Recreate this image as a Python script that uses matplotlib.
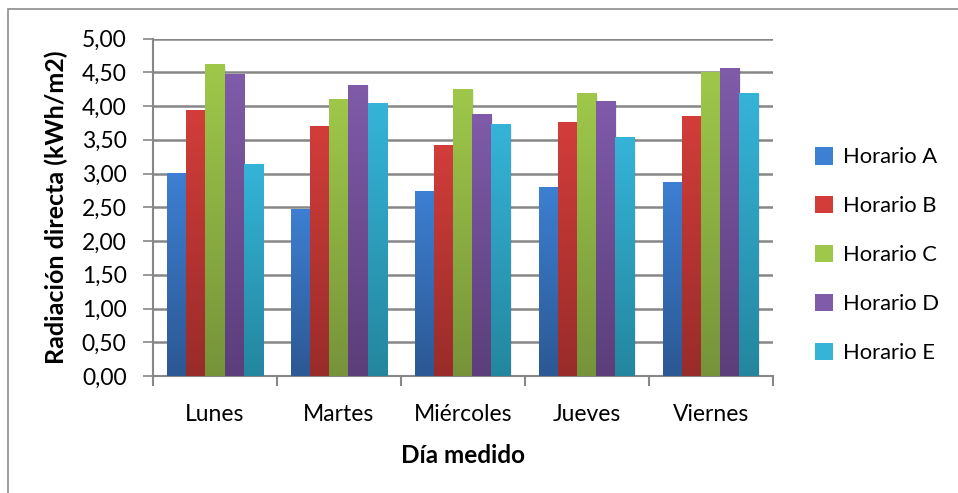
import numpy as np
import matplotlib
matplotlib.use('Agg')
import matplotlib.pyplot as plt
from matplotlib.patches import Patch, Rectangle
from matplotlib.ticker import FuncFormatter, MultipleLocator, FixedLocator
from matplotlib.colors import LinearSegmentedColormap

plt.rcParams['font.family'] = ['Lato', 'DejaVu Sans']

# datos
dias = ['Lunes', 'Martes', 'Miércoles', 'Jueves', 'Viernes']
horario_a = [3.00, 2.46, 2.74, 2.80, 2.86]
horario_b = [3.94, 3.69, 3.41, 3.75, 3.84]
horario_c = [4.61, 4.10, 4.24, 4.18, 4.49]
horario_d = [4.46, 4.31, 3.87, 4.07, 4.55]
horario_e = [3.13, 4.03, 3.72, 3.54, 4.19]
nombres = ['Horario A', 'Horario B', 'Horario C', 'Horario D', 'Horario E']

series = [horario_a, horario_b, horario_c, horario_d, horario_e]
# (arriba, abajo) para el degradado tipo Excel
colores = [('#3d7fd2', '#2c5893'),
           ('#d23d3a', '#982c2a'),
           ('#9fc84a', '#76933a'),
           ('#7f5ba9', '#5b3e7a'),
           ('#35b4d8', '#24869e')]

fig = plt.figure(figsize=(9.58, 4.93), dpi=100)
# marco exterior
fig.patches.append(Rectangle((8/958, -0.1), 1.2, (493-9)/493 + 0.1, transform=fig.transFigure,
                             fill=False, edgecolor='#8c8c8c', linewidth=1.2))

ax = fig.add_axes([153/958, 1-376/493, (772.7-153)/958, (376-38.5)/493])

x = np.arange(len(dias))
w = 1/6.5
grad = np.linspace(0, 1, 256).reshape(-1, 1)
for i, (vals, (c_top, c_bot)) in enumerate(zip(series, colores)):
    cmap = LinearSegmentedColormap.from_list('g%d' % i, [c_bot, c_top])
    bars = ax.bar(x + (i-2)*w, vals, width=w, color=c_bot, zorder=3, linewidth=0)
    for b in bars:
        bx, bw, bh = b.get_x(), b.get_width(), b.get_height()
        # sombra
        ax.add_patch(Rectangle((bx+0.012, -0.02), bw, bh, color='black', alpha=0.07, zorder=2.5, linewidth=0))
        ax.imshow(grad, cmap=cmap, extent=[bx, bx+bw, 0, bh], aspect='auto',
                  origin='lower', zorder=3.1, vmin=0, vmax=1)

ax.set_xlim(-0.5, 4.5)
ax.set_ylim(0, 5)
ax.yaxis.set_major_locator(MultipleLocator(0.5))
ax.yaxis.set_major_formatter(FuncFormatter(lambda v, p: f'{v:.2f}'.replace('.', ',')))
ax.grid(axis='y', color='#878787', linewidth=1.8, zorder=1)
ax.set_axisbelow(True)

ax.set_xticks(x)
ax.set_xticklabels(dias)
ax.xaxis.set_minor_locator(FixedLocator(np.arange(-0.5, 5, 1)))
ax.tick_params(axis='x', which='major', length=0, pad=20, labelsize=16.5)
ax.tick_params(axis='x', which='minor', length=7, color='#878787', width=1.5, direction='out')
ax.tick_params(axis='y', length=7, color='#878787', width=1.2, labelsize=16.5, pad=12)

for s in ['top', 'right']:
    ax.spines[s].set_visible(False)
ax.spines['left'].set_color('#878787')
ax.spines['left'].set_linewidth(1.5)
ax.spines['bottom'].set_color('#878787')
ax.spines['bottom'].set_linewidth(1.5)

ax.set_ylabel('Radiación directa (kWh/m2)', fontsize=18, fontweight='bold', labelpad=10)
ax.set_xlabel('Día medido', fontsize=17.5, fontweight='bold', labelpad=14)

handles = [Patch(facecolor=c[0], edgecolor='none') for c in colores]
fig.legend(handles, nombres, loc='center left', bbox_to_anchor=(795/958, 1-255/493),
           frameon=False, fontsize=15.8, handlelength=0.85, handleheight=0.85,
           handletextpad=0.45, labelspacing=1.3)

fig.savefig('out.png', dpi=100)
